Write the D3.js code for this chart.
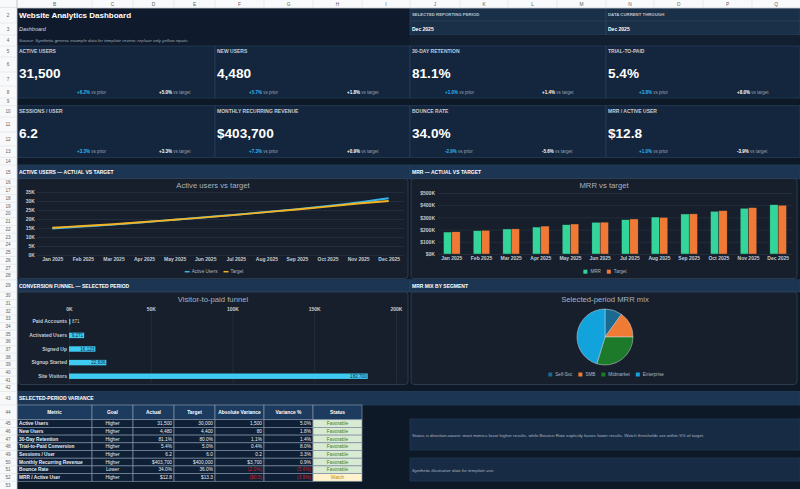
<!DOCTYPE html>
<html>
<head>
<meta charset="utf-8">
<title>Website Analytics Dashboard</title>
<script src="https://cdn.jsdelivr.net/npm/d3@7/dist/d3.min.js"></script>
<style>
  body { margin: 0; background: #0e1928; overflow: hidden; }
  svg { display: block; font-family: "Liberation Sans", Arial, sans-serif; }
  .axis path, .axis line { display: none; }
  .grid line { stroke: #2b3848; stroke-width: 0.6; }
  .grid path { display: none; }
</style>
</head>
<body>
<svg id="sheet"></svg>
<script>
// ---- chart data ----
let months = ['Jan 2025', 'Feb 2025', 'Mar 2025', 'Apr 2025', 'May 2025', 'Jun 2025',
              'Jul 2025', 'Aug 2025', 'Sep 2025', 'Oct 2025', 'Nov 2025', 'Dec 2025']
let activeUsers  = [14700, 15800, 16900, 18200, 19600, 21000, 22400, 23900, 25500, 27300, 29200, 31500]
let activeTarget = [15100, 16100, 17100, 18300, 19600, 20900, 22300, 23800, 25300, 26900, 28600, 30000]
let activeTicks  = [0, 5000, 10000, 15000, 20000, 25000, 30000, 35000]

let mrrActual = [180000, 191000, 205000, 221000, 240000, 260000, 281000, 303000, 328000, 350000, 375000, 403700]
let mrrTarget = [182000, 194000, 206000, 229000, 246000, 261000, 287000, 300000, 329000, 355000, 380000, 400000]
let mrrTicks  = [0, 100000, 200000, 300000, 400000, 500000]

let funnelStages = ['Paid Accounts', 'Activated Users', 'Signed Up', 'Signup Started', 'Site Visitors']
let funnelValues = [871, 9271, 16123, 22836, 182700]
let funnelTicks  = [0, 50000, 100000, 150000, 200000]

let segments   = ['Self-Svc', 'SMB', 'Midmarket', 'Enterprise']
let segmentMrr = [40400, 60600, 119900, 182800]

// ---- KPI cards ----
let kpiLabels   = ['ACTIVE USERS', 'NEW USERS', '30-DAY RETENTION', 'TRIAL-TO-PAID',
                   'SESSIONS / USER', 'MONTHLY RECURRING REVENUE', 'BOUNCE RATE', 'MRR / ACTIVE USER']
let kpiValues   = ['31,500', '4,480', '81.1%', '5.4%', '6.2', '$403,700', '34.0%', '$12.8']
let kpiVsPrior  = ['+6.2%', '+5.7%', '+1.0%', '+3.8%', '+3.3%', '+7.3%', '-2.9%', '+1.0%']
let kpiVsTarget = ['+5.0%', '+1.8%', '+1.4%', '+8.0%', '+3.3%', '+0.9%', '-5.6%', '-3.9%']

// ---- variance table ----
let tableHeaders = ['Metric', 'Goal', 'Actual', 'Target', 'Absolute Variance', 'Variance %', 'Status']
let tableMetrics = ['Active Users', 'New Users', '30-Day Retention', 'Trial-to-Paid Conversion',
                    'Sessions / User', 'Monthly Recurring Revenue', 'Bounce Rate', 'MRR / Active User']
let tableGoals   = ['Higher', 'Higher', 'Higher', 'Higher', 'Higher', 'Higher', 'Lower', 'Higher']
let tableActual  = ['31,500', '4,480', '81.1%', '5.4%', '6.2', '$403,700', '34.0%', '$12.8']
let tableTarget  = ['30,000', '4,400', '80.0%', '5.0%', '6.0', '$400,000', '36.0%', '$13.3']
let tableAbsVar  = ['1,500', '80', '1.1%', '0.4%', '0.2', '$3,700', '(2.0%)', '($0.5)']
let tableVarPct  = ['5.0%', '1.8%', '1.4%', '8.0%', '3.3%', '0.9%', '(5.6%)', '(3.9%)']
let tableStatus  = ['Favorable', 'Favorable', 'Favorable', 'Favorable', 'Favorable', 'Favorable', 'Favorable', 'Watch']

// ---- sheet grid ----
let colLetters = ['B', 'C', 'D', 'E', 'F', 'G', 'H', 'I', 'J', 'K', 'L', 'M', 'N', 'O', 'P', 'Q']
let colEdges = [17, 92, 133, 174, 215, 264, 313, 362, 410, 460, 508, 557, 606, 654, 703, 752, 800]
let rowHeights = [15, 12, 11, 11, 15, 14, 12, 7.7, 11.3, 15, 14, 11.5, 7.5, 14]
for (let i = 0; i < 13; i++) rowHeights.push(7.75)
rowHeights.push(12.25)
for (let i = 0; i < 13; i++) rowHeights.push(7.65)
rowHeights.push(13.55, 14.7)
for (let i = 0; i < 8; i++) rowHeights.push(7.7)
rowHeights.push(9)

let rowTops = {}
let acc = 8
rowHeights.forEach((h, i) => { rowTops[i + 2] = acc; acc += h })
rowTops[rowHeights.length + 2] = acc
let rowY = r => rowTops[r]
let rowMid = r => (rowTops[r] + rowTops[r + 1]) / 2

let svg = d3.select('#sheet').attr('width', 800).attr('height', 489)

let box = (x0, y0, x1, y1, fill, stroke, rx) => svg.append('rect')
    .attr('x', x0).attr('y', y0).attr('width', x1 - x0).attr('height', y1 - y0)
    .attr('rx', rx || 0)
    .attr('fill', fill).attr('stroke', stroke || 'none').attr('stroke-width', 0.7)

let label = (g, x, y, str, size, color, weight, anchor, style) => g.append('text')
    .attr('x', x).attr('y', y + size * 0.35)
    .attr('font-size', size).attr('fill', color)
    .attr('font-weight', weight || 'normal')
    .attr('font-style', style || 'normal')
    .attr('text-anchor', anchor || 'start')
    .text(str)

// background
box(0, 0, 800, 489, '#0e1928')

// title block
box(colEdges[0], rowY(2), colEdges[8], rowY(5), '#0f1b2c')
label(svg, 19, rowMid(2), 'Website Analytics Dashboard', 8, '#ffffff', 'bold')
label(svg, 19, rowMid(3), 'Dashboard', 5.5, '#d5dce4', 'normal', 'start', 'italic')
label(svg, 19, rowMid(4), 'Source: Synthetic generic example data for template review; replace only yellow inputs.', 4.4, '#9eabba', 'normal', 'start', 'italic')

// reporting period blocks
;[[8, 12, 'SELECTED REPORTING PERIOD'], [12, 16, 'DATA CURRENT THROUGH']].forEach(b => {
    box(colEdges[b[0]], rowY(2), colEdges[b[1]], rowY(4), '#1a2f48', '#2b4664')
    svg.append('line').attr('x1', colEdges[b[0]]).attr('x2', colEdges[b[1]])
       .attr('y1', rowY(3) - 2).attr('y2', rowY(3) - 2).attr('stroke', '#2b4664').attr('stroke-width', 0.7)
    label(svg, colEdges[b[0]] + 2, rowMid(2) - 1, b[2], 4.3, '#b9c3cf', 'bold')
    label(svg, colEdges[b[0]] + 2, rowMid(3), 'Dec 2025', 5, '#ffffff', 'bold')
})
box(colEdges[8], rowY(4), 800, rowY(5), '#121f31')

// KPI cards
let cardCols = [[0, 4], [4, 8], [8, 12], [12, 16]]
kpiLabels.forEach((name, i) => {
    let c = cardCols[i % 4]
    let r0 = i < 4 ? 5 : 10
    let x0 = colEdges[c[0]], x1 = colEdges[c[1]]
    box(x0, rowY(r0), x1, rowY(r0 + 4), '#14263d', '#27405c')
    label(svg, x0 + 2, rowMid(r0), name, 5, '#c3cbd5', 'bold')
    label(svg, x0 + 2, (rowY(r0 + 1) + rowY(r0 + 3)) / 2 + 1.5, kpiValues[i], 13.6, '#ffffff', 'bold')
    let dy = rowMid(r0 + 3) + 4.5 * 0.35
    let tp = svg.append('text').attr('x', colEdges[c[0] + 1] - 15).attr('y', dy).attr('font-size', 4.5)
    tp.append('tspan').attr('font-weight', 'bold').attr('fill', '#2fb8f0').text(kpiVsPrior[i])
    tp.append('tspan').attr('fill', '#98a4b3').text(' vs prior')
    let tt = svg.append('text').attr('x', colEdges[c[0] + 3] - 15).attr('y', dy).attr('font-size', 4.5)
    tt.append('tspan').attr('font-weight', 'bold').attr('fill', '#ffffff').text(kpiVsTarget[i])
    tt.append('tspan').attr('fill', '#98a4b3').text(' vs target')
})

// section header bars
let sectionBar = (r, c0, c1, title) => {
    box(colEdges[c0], rowY(r), colEdges[c1], rowY(r + 1), '#1b3553', '#24425f')
    label(svg, colEdges[c0] + 2, rowMid(r), title, 5, '#ffffff', 'bold')
}
sectionBar(15, 0, 8, 'ACTIVE USERS \u2014 ACTUAL VS TARGET')
sectionBar(15, 8, 16, 'MRR \u2014 ACTUAL VS TARGET')
sectionBar(29, 0, 8, 'CONVERSION FUNNEL \u2014 SELECTED PERIOD')
sectionBar(29, 8, 16, 'MRR MIX BY SEGMENT')
sectionBar(43, 0, 16, 'SELECTED-PERIOD VARIANCE')

// chart panels
let panelFill = '#161f2b', panelStroke = '#36475b'
box(18, 178.5, 408, 278.5, panelFill, panelStroke, 3)
box(411, 178.5, 797, 278.5, panelFill, panelStroke, 3)
box(18, 292, 408, 384.5, panelFill, panelStroke, 3)
box(411, 292, 797, 384.5, panelFill, panelStroke, 3)

let chartTitle = (x, y, str) => label(svg, x, y, str, 7.7, '#a8b3c0', 'normal', 'middle')

let drawLegend = (items, colors, cx, cy, shape) => {
    let lg = svg.append('g')
    let x = 0
    items.forEach((name, i) => {
        let it = lg.append('g').attr('transform', `translate(${x},0)`)
        if (shape === 'line') {
            it.append('line').attr('x1', 0).attr('x2', 5).attr('stroke', colors[i]).attr('stroke-width', 1.5)
        } else {
            it.append('rect').attr('x', 0).attr('y', -2).attr('width', 4).attr('height', 4).attr('fill', colors[i])
        }
        let t = it.append('text').attr('x', 7).attr('y', 1.6).attr('font-size', 4.6).attr('fill', '#aeb8c4').text(name)
        x += 7 + t.node().getComputedTextLength() + 6
    })
    lg.attr('transform', `translate(${cx - (x - 6) / 2},${cy})`)
}

// ---- line chart: active users vs target ----
let lineColors = ['#35b5ea', '#f4b323']
let lx = d3.scalePoint().domain(months).range([37, 404]).padding(0.5)
let ly = d3.scaleLinear().domain([0, 35000]).range([255, 192])

chartTitle(213, 185.5, 'Active users vs target')
svg.append('g').attr('class', 'grid').attr('transform', 'translate(37,0)')
   .call(d3.axisLeft(ly).tickValues(activeTicks).tickSize(-367).tickFormat(''))
svg.append('g').attr('class', 'axis').attr('transform', 'translate(36,0)')
   .call(d3.axisLeft(ly).tickValues(activeTicks).tickSize(0).tickPadding(1).tickFormat(d => d / 1000 + 'K'))
svg.append('g').attr('class', 'axis').attr('transform', 'translate(0,257.5)')
   .call(d3.axisBottom(lx).tickSize(0).tickPadding(0))

let line = d3.line().x((d, i) => lx(months[i])).y(d => ly(d)).curve(d3.curveMonotoneX)
;[activeUsers, activeTarget].forEach((series, i) => {
    svg.append('path').datum(series).attr('d', line)
       .attr('fill', 'none').attr('stroke', lineColors[i]).attr('stroke-width', 1.9)
})
drawLegend(['Active Users', 'Target'], lineColors, 214, 271.7, 'line')

// ---- clustered bars: MRR vs target ----
let barColors = ['#33d59a', '#f07a35']
let bx = d3.scaleBand().domain(months).range([437, 793]).paddingInner(0.44).paddingOuter(0.22)
let bx1 = d3.scaleBand().domain(['MRR', 'Target']).range([0, bx.bandwidth()])
let by = d3.scaleLinear().domain([0, 500000]).range([254, 193])

chartTitle(604, 185.5, 'MRR vs target')
svg.append('g').attr('class', 'grid').attr('transform', 'translate(438,0)')
   .call(d3.axisLeft(by).tickValues(mrrTicks).tickSize(-355).tickFormat(''))
svg.append('g').attr('class', 'axis').attr('transform', 'translate(436,0)')
   .call(d3.axisLeft(by).tickValues(mrrTicks).tickSize(0).tickPadding(1).tickFormat(d => '$' + d / 1000 + 'K'))
svg.append('g').attr('class', 'axis').attr('transform', 'translate(0,256.5)')
   .call(d3.axisBottom(bx).tickSize(0).tickPadding(0))

let groups = svg.append('g').selectAll('g').data(months).enter().append('g')
    .attr('transform', d => `translate(${bx(d)},0)`)
groups.selectAll('rect')
    .data((d, i) => [['MRR', mrrActual[i]], ['Target', mrrTarget[i]]])
    .enter().append('rect')
    .attr('x', d => bx1(d[0]))
    .attr('width', bx1.bandwidth())
    .attr('y', d => by(d[1]))
    .attr('height', d => by(0) - by(d[1]))
    .attr('fill', (d, i) => barColors[i])
    .attr('stroke', '#1a2430').attr('stroke-width', 0.4)
drawLegend(['MRR', 'Target'], barColors, 605, 271.7, 'square')

// ---- horizontal funnel ----
let fx = d3.scaleLinear().domain([0, 200000]).range([69, 396])
let fy = d3.scaleBand().domain(funnelStages).range([315, 383]).paddingInner(0.6).paddingOuter(0.3)

chartTitle(213, 299, 'Visitor-to-paid funnel')
svg.append('g').attr('class', 'grid').attr('transform', 'translate(0,312)')
   .call(d3.axisBottom(fx).tickValues(funnelTicks).tickSize(71).tickFormat(''))
svg.append('g').attr('class', 'axis').attr('transform', 'translate(0,311)')
   .call(d3.axisTop(fx).tickValues(funnelTicks).tickSize(0).tickPadding(0).tickFormat(d => d / 1000 + 'K'))
svg.append('g').attr('class', 'axis').attr('transform', 'translate(69,0)')
   .call(d3.axisLeft(fy).tickSize(0).tickPadding(2))

svg.append('g').selectAll('rect').data(funnelStages).enter().append('rect')
    .attr('x', fx(0))
    .attr('y', d => fy(d))
    .attr('height', fy.bandwidth())
    .attr('width', (d, i) => Math.max(1, fx(funnelValues[i]) - fx(0)))
    .attr('fill', '#3fcaf2')
// labels sit inside the bar end; a bar too short to hold one gets it just past the end
let fitsInside = v => fx(v) - fx(0) > 14
svg.append('g').selectAll('text').data(funnelStages).enter().append('text')
    .attr('x', (d, i) => fitsInside(funnelValues[i]) ? fx(funnelValues[i]) - 1 : fx(funnelValues[i]) + 1.5)
    .attr('y', d => fy(d) + fy.bandwidth() / 2 + 1.6)
    .attr('text-anchor', (d, i) => fitsInside(funnelValues[i]) ? 'end' : 'start')
    .attr('font-size', 4.6)
    .attr('fill', (d, i) => fitsInside(funnelValues[i]) ? '#13273a' : '#c4ccd6')
    .text((d, i) => d3.format(',')(funnelValues[i]))

// ---- pie: MRR mix ----
let pieColors = ['#1b6990', '#ef7b34', '#1e7a2b', '#12a2dc']
let pie = d3.pie().sort(null)
let arc = d3.arc().innerRadius(0).outerRadius(28)
chartTitle(605, 299, 'Selected-period MRR mix')
svg.append('g').attr('transform', 'translate(605,337)')
   .selectAll('path').data(pie(segmentMrr)).enter().append('path')
   .attr('d', arc)
   .attr('fill', (d, i) => pieColors[i])
   .attr('stroke', '#cfd6de').attr('stroke-width', 0.5)
drawLegend(segments, pieColors, 606, 374.5, 'square')

// axis text styling
svg.selectAll('.axis text').attr('font-size', 5).attr('font-weight', 'bold').attr('fill', '#c4ccd6')
svg.selectAll('.axis').attr('font-family', null)

// ---- variance table ----
let tableCols = [tableMetrics, tableGoals, tableActual, tableTarget, tableAbsVar, tableVarPct, tableStatus]
let tableAlign = ['start', 'middle', 'end', 'end', 'end', 'end', 'middle']
tableHeaders.forEach((h, c) => {
    box(colEdges[c], rowY(44), colEdges[c + 1], rowY(45), '#1d3b5e', '#8292a6')
    label(svg, (colEdges[c] + colEdges[c + 1]) / 2, rowMid(44), h, 4.9, '#ffffff', 'bold', 'middle')
})
tableMetrics.forEach((m, r) => {
    let row = 45 + r
    tableCols.forEach((col, c) => {
        let x0 = colEdges[c], x1 = colEdges[c + 1]
        let val = col[r]
        let fill = '#0f2036', color = '#e8edf2'
        if (c === 6) {
            fill = val === 'Watch' ? '#fff2cc' : '#d9ead3'
            color = val === 'Watch' ? '#bf8f00' : '#3d7f24'
        }
        if (val.startsWith('(')) color = '#d11f1f'
        box(x0, rowY(row), x1, rowY(row + 1), fill, '#8090a4')
        let a = tableAlign[c]
        let tx = a === 'start' ? x0 + 2 : a === 'end' ? x1 - 2 : (x0 + x1) / 2
        label(svg, tx, rowMid(row), val, 4.8, color, c === 0 ? 'bold' : 'normal', a)
    })
})

// notes
box(410, 419, 800, 450, '#172b44', '#223a56')
label(svg, 412, 435, 'Status is direction-aware: most metrics favor higher results, while Bounce Rate explicitly favors lower results. Watch thresholds are within 5% of target.', 4.4, '#aab6c4')
box(410, 458, 800, 481, '#172b44', '#223a56')
label(svg, 412, 470, 'Synthetic illustrative data for template use.', 4.4, '#aab6c4', 'normal', 'start', 'italic')

// ---- spreadsheet chrome: column letters and row numbers ----
box(0, 0, 800, 8, '#f8f9fa')
svg.append('line').attr('x1', 0).attr('x2', 800).attr('y1', 8).attr('y2', 8).attr('stroke', '#c4c7cb').attr('stroke-width', 0.8)
colLetters.forEach((l, i) => {
    svg.append('line').attr('x1', colEdges[i]).attr('x2', colEdges[i]).attr('y1', 0).attr('y2', 8)
       .attr('stroke', '#dadce0').attr('stroke-width', 0.6)
    label(svg, (colEdges[i] + colEdges[i + 1]) / 2, 4.2, l, 4.8, '#5f6368', 'normal', 'middle')
})
box(0, 8, 17, 489, '#f8f9fa')
svg.append('line').attr('x1', 17).attr('x2', 17).attr('y1', 0).attr('y2', 489).attr('stroke', '#c4c7cb').attr('stroke-width', 0.8)
rowHeights.forEach((h, i) => {
    let r = i + 2
    svg.append('line').attr('x1', 0).attr('x2', 17).attr('y1', rowY(r + 1)).attr('y2', rowY(r + 1))
       .attr('stroke', '#dadce0').attr('stroke-width', 0.5)
    label(svg, 8, rowMid(r), String(r), 4.6, '#5f6368', 'normal', 'middle')
})
</script>
</body>
</html>
